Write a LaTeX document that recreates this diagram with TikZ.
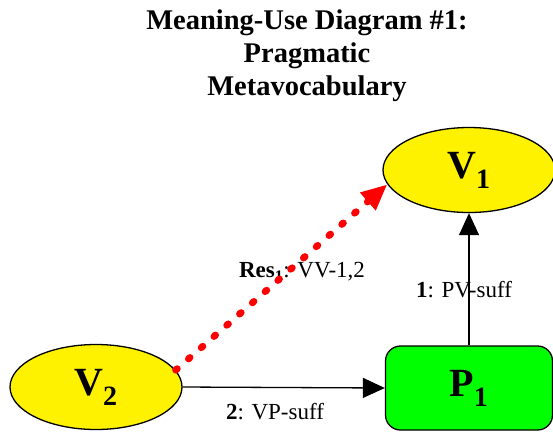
\documentclass[tikz,border=0pt]{standalone}
\usepackage{fontspec}
\setmainfont{Liberation Serif}
\usetikzlibrary{shapes.geometric,arrows.meta}
\begin{document}
\begin{tikzpicture}[x=1pt,y=-1pt,
  vocab/.style={ellipse,draw,line width=1.3pt,fill=yellow,inner sep=0pt,minimum width=172pt,minimum height=85pt,font=\fontsize{40}{40}\selectfont\bfseries},
  practice/.style={rectangle,rounded corners=15pt,draw,line width=1.3pt,fill=green,inner sep=0pt,minimum width=167pt,minimum height=84pt,font=\fontsize{40}{40}\selectfont\bfseries},
  lbl/.style={font=\fontsize{23}{23}\selectfont,inner sep=0pt},
  blackarrow/.style={line width=1.3pt,-{Triangle[length=22pt,width=20pt]}},
  redarrow/.style={red,line width=7pt,dash pattern=on 2pt off 15pt,line cap=round,-{Triangle[length=26pt,width=22pt]}}
]
\useasboundingbox (0,0) rectangle (553,432);
\clip (0,0) rectangle (553,432);
\node[font=\fontsize{28.5}{33}\selectfont\bfseries,align=center] (title) at (307,56) {Meaning-Use Diagram \#1:\\Pragmatic\\Metavocabulary};
\node[vocab] (V1) at (469,170) {V$_{\mathbf 1}$};
\node[vocab] (V2) at (96,387) {V$_{\mathbf 2}$};
\node[practice] (P1) at (469,388) {P$_{\mathbf 1}$};
\node[lbl] (l1) at (464,290) {\textbf{1}: PV-suff};
\node[lbl] (l2) at (275,412) {\textbf{2}: VP-suff};
\node[lbl] (lr) at (302,272) {\textbf{Res}$_{\mathbf 1}$: VV-1,2};
\draw[blackarrow] (V2.east) -- (P1.west);
\draw[blackarrow] (P1.north) -- (V1.south);
\draw[redarrow] (V2.12) -- (V1.190);
\end{tikzpicture}
\end{document}
